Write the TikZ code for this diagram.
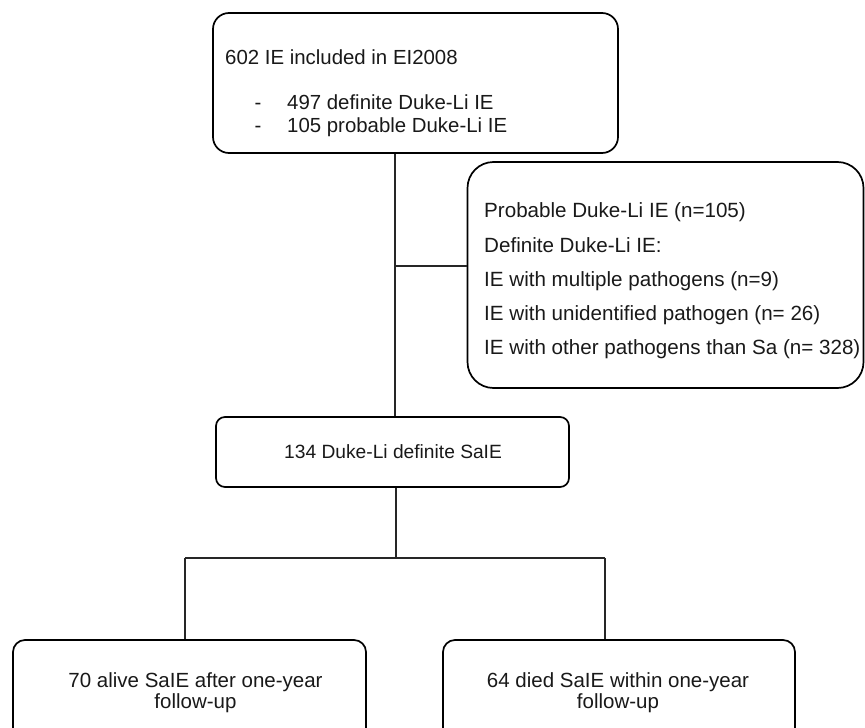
\documentclass[tikz,border=0pt]{standalone}
\usepackage{fontspec}
\setmainfont{Liberation Sans}
\begin{document}
\begin{tikzpicture}[x=1pt,y=-1pt,
  box/.style={draw=black,line width=1.7pt,fill=none,inner sep=0pt},
  conn/.style={draw=black!85,line width=1.1pt},
  txt/.style={inner sep=0pt,text=black!90}]
\useasboundingbox (0,0) rectangle (865,728);
\clip (0,0) rectangle (865,728);
% boxes
\node[box,rounded corners=16pt,minimum width=405pt,minimum height=140pt] (top) at (415.5,83) {};
\node[box,rounded corners=26pt,minimum width=396pt,minimum height=226pt] (excl) at (665.5,275) {};
\node[box,rounded corners=9pt,minimum width=353pt,minimum height=70pt] (mid) at (392.5,452) {};
\node[box,rounded corners=12pt,minimum width=353pt,minimum height=130pt] (bl) at (189.5,705) {};
\node[box,rounded corners=12pt,minimum width=352pt,minimum height=130pt] (br) at (619,705) {};
% texts
\node[txt,anchor=west,font=\fontsize{20.4}{24}\selectfont] (t1) at (225,57) {602 IE included in EI2008};
\node[txt,anchor=west,font=\fontsize{20.4}{24}\selectfont] (t2) at (254.5,102) {\makebox[32.5pt][l]{-}497 definite Duke-Li IE};
\node[txt,anchor=west,font=\fontsize{20.4}{24}\selectfont] (t3) at (254.5,127) {\makebox[32.5pt][l]{-}105 probable Duke-Li IE};
\node[txt,anchor=west,align=left,font=\fontsize{20.6}{34.2}\selectfont] (te) at (484,281) {Probable Duke-Li IE (n=105)\\Definite Duke-Li IE:\\IE with multiple pathogens (n=9)\\IE with unidentified pathogen (n= 26)\\IE with other pathogens than Sa (n= 328)};
\node[txt,anchor=west,font=\fontsize{19.2}{24}\selectfont] (tm) at (284,452) {134 Duke-Li definite SaIE};
\node[txt,align=center,font=\fontsize{20.5}{21}\selectfont] (tl) at (195.5,692.5) {70 alive SaIE after one-year\\follow-up};
\node[txt,align=center,font=\fontsize{20.5}{21}\selectfont] (tr) at (618,692.5) {64 died SaIE within one-year\\follow-up};
% connectors
\coordinate (j1) at (395,266);
\coordinate (j2) at (396,558);
\coordinate (j3) at (185,558);
\coordinate (j4) at (605,558);
\draw[conn] (j1 |- top.south) -- (j1 |- mid.north);
\draw[conn] (j1) -- (excl.west |- j1);
\draw[conn] (j2 |- mid.south) -- (j2);
\draw[conn] (j3) -- (j4);
\draw[conn] (j3) -- (j3 |- bl.north);
\draw[conn] (j4) -- (j4 |- br.north);
\end{tikzpicture}
\end{document}
